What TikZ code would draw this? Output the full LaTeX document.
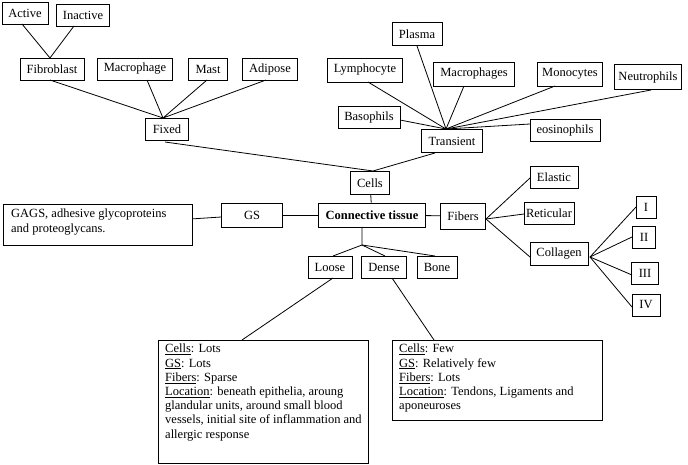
\documentclass[tikz,border=0pt]{standalone}
\usepackage{fontspec}
\setmainfont{Liberation Serif}
\begin{document}
\begin{tikzpicture}[x=1pt,y=-1pt,
  b/.style={draw,line width=0.9pt,inner sep=0pt,font=\fontsize{12.5}{14}\selectfont},
  ln/.style={line width=0.8pt},
  tx/.style={anchor=north west,inner sep=0pt,align=left,font=\fontsize{12.5}{14.2}\selectfont}]
\useasboundingbox (0,0) rectangle (688,465);
\newcommand{\bx}[6]{\node[b,minimum width=#4,minimum height=#5] (#1) at (#2,#3) {#6};}
\bx{act}{25}{13}{46}{22}{Active}
\bx{inact}{83}{15}{53}{22}{Inactive}
\bx{fib}{52}{69}{64}{22}{Fibroblast}
\bx{mac}{135}{69}{75}{22}{Macrophage}
\bx{mast}{208}{69}{39}{22}{Mast}
\bx{adi}{270}{69}{55}{22}{Adipose}
\bx{fixed}{167}{129}{43}{22}{Fixed}
\bx{plasma}{417}{34}{50}{23}{Plasma}
\bx{lym}{365}{70}{75}{24}{Lymphocyte}
\bx{macs}{474}{74}{81}{24}{Macrophages}
\bx{mono}{570}{74}{65}{24}{Monocytes}
\bx{neut}{648}{77}{67}{25}{Neutrophils}
\bx{baso}{369}{117}{62}{22}{Basophils}
\bx{trans}{452}{141}{61}{23}{Transient}
\bx{eos}{565}{130}{70}{22}{eosinophils}
\bx{cells}{370}{183}{39}{23}{Cells}
\node[b,minimum width=189,minimum height=41] (gags) at (98,225) {};
\node[tx] at (11,209) {GAGS, adhesive glycoproteins\\and proteoglycans.};
\bx{gs}{252}{215}{61}{24}{GS}
\bx{ct}{372}{215}{107}{24}{\textbf{Connective tissue}}
\bx{fibers}{463}{216}{45}{26}{Fibers}
\bx{elastic}{554}{177}{48}{22}{Elastic}
\bx{ret}{549}{213}{50}{22}{Reticular}
\bx{coll}{559}{254}{58}{23}{Collagen}
\bx{i}{646}{207}{20}{22}{I}
\bx{ii}{644}{237}{23}{22}{II}
\bx{iii}{645}{273}{27}{22}{III}
\bx{iv}{646}{305}{28}{22}{IV}
\bx{loose}{330}{267}{44}{22}{Loose}
\bx{dense}{384}{267}{45}{22}{Dense}
\bx{bone}{437}{267}{40}{22}{Bone}
\node[b,minimum width=210,minimum height=123,anchor=north west] (lbox) at (158,340) {};
\node[tx] at (165,344) {\underline{Cells}: Lots\\\underline{GS}: Lots\\\underline{Fibers}: Sparse\\\underline{Location}: beneath epithelia, aroung\\glandular units, around small blood\\vessels, initial site of inflammation and\\allergic response};
\node[b,minimum width=210,minimum height=80,anchor=north west] (dbox) at (392,340) {};
\node[tx] at (399,344) {\underline{Cells}: Few\\\underline{GS}: Relatively few\\\underline{Fibers}: Lots\\\underline{Location}: Tendons, Ligaments and\\aponeuroses};
% hubs
\coordinate (hfib) at (50,58);
\coordinate (hfix) at (163,118);
\coordinate (htr) at (446,129);
\coordinate (hc) at (373,171);
\coordinate (hct) at (362,245);
\coordinate (hf) at (486,219);
\coordinate (hco) at (590,257);
\draw[ln] (22,24) -- (hfib) -- (74,26);
\draw[ln] (50,80) -- (hfix) -- (147,80);
\draw[ln] (207,80) -- (hfix) -- (266,80);
\draw[ln] (417,46) -- (htr); \draw[ln] (368,82) -- (htr);
\draw[ln] (464,86) -- (htr); \draw[ln] (555,86) -- (htr);
\draw[ln] (651,90) -- (htr); \draw[ln] (400,120) -- (htr);
\draw[ln] (530,124) -- (htr);
\draw[ln] (165,142) -- (hc) -- (435,153);
\draw[ln] (cells) -- (ct);
\draw[ln] (gags) -- (gs); \draw[ln] (gs) -- (ct); \draw[ln] (ct) -- (fibers);
\draw[ln] (362,227) -- (hct) -- (333,256);
\draw[ln] (hct) -- (385,256); \draw[ln] (hct) -- (435,256);
\draw[ln] (hf) -- (530,178); \draw[ln] (hf) -- (524,214); \draw[ln] (hf) -- (530,257);
\draw[ln] (hco) -- (636,207); \draw[ln] (hco) -- (632,237);
\draw[ln] (hco) -- (632,275); \draw[ln] (hco) -- (632,307);
\draw[ln] (333,278) -- (242,340);
\draw[ln] (392,278) -- (434,340);
\end{tikzpicture}
\end{document}
